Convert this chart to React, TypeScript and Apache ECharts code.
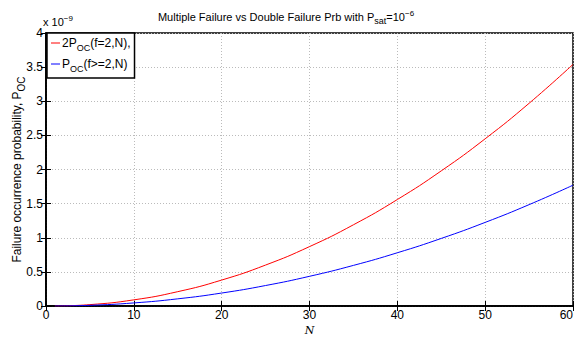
import React, { useEffect, useRef } from "react";
import * as echarts from "echarts";

const N_VALUES = [1, 5, 10, 15, 20, 25, 30, 35, 40, 45, 50, 55, 60];
// values in units of 1e-9
const DOUBLE_2X = [0, 0.02, 0.09, 0.21, 0.38, 0.6, 0.87, 1.19, 1.56, 1.98, 2.45, 2.97, 3.54];
const MULTI = [0, 0.01, 0.045, 0.105, 0.19, 0.3, 0.435, 0.595, 0.78, 0.99, 1.225, 1.485, 1.77];
const SERIES_NAMES = ["double", "multi"];
const FONT = "Liberation Sans, Arial, sans-serif";

export default function App() {
  const ref = useRef<HTMLDivElement>(null);
  useEffect(() => {
    if (!ref.current) return;
    const chart = echarts.init(ref.current, undefined, { renderer: "svg" });
    const gridLeft = 46, gridRight = 5, gridTop = 33, gridBottom = 31;
    const sub = { fontSize: 9, fontFamily: FONT, color: "#000", padding: [8, 0, 0, 0] };
    const sup = { fontSize: 8, fontFamily: FONT, color: "#000", padding: [0, 0, 7, 0] };
    const base = { fontSize: 11, fontFamily: FONT, color: "#000" };
    chart.setOption({
      animation: false,
      backgroundColor: "#fff",
      title: {
        text: "Multiple Failure vs Double Failure Prb with P{sub|sat}=10{sup|−6}",
        left: 281,
        textAlign: "center",
        top: 3,
        textStyle: { ...base, fontWeight: "normal", rich: { sub, sup } },
      },
      grid: {
        left: gridLeft, right: gridRight, top: gridTop, bottom: gridBottom,
        show: true, borderColor: "#000", borderWidth: 1.5,
        outerBoundsMode: "none", containLabel: false,
      },
      legend: {
        orient: "vertical",
        left: gridLeft + 1,
        top: gridTop,
        backgroundColor: "#fff",
        borderColor: "#000",
        borderWidth: 1.5,
        borderRadius: 0,
        padding: [4, 4, 5, 4],
        itemGap: 6,
        itemWidth: 9,
        itemHeight: 1,
        icon: "rect",
        data: SERIES_NAMES,
        formatter: (name: string) =>
          name === "double" ? "2P{sub|OC}(f=2,N)," : "P{sub|OC}(f>=2,N)",
        textStyle: { ...base, fontSize: 12, padding: [0, 0, 0, -3], rich: { sub: { ...sub, padding: [9, 0, 0, 0] } } },
      },
      xAxis: [
        {
          type: "value",
          min: 0,
          max: 60,
          interval: 10,
          name: "N",
          nameLocation: "middle",
          nameGap: 19,
          nameMoveOverlap: false,
          nameTextStyle: { fontFamily: "DejaVu Serif, serif", fontStyle: "italic", fontSize: 11, color: "#000" },
          axisLine: { show: true, lineStyle: { color: "#000", width: 1.5 } },
          axisTick: { show: true, inside: true, length: 5, lineStyle: { color: "#000" } },
          axisLabel: { ...base, fontSize: 12, margin: 3, alignMaxLabel: "right" },
          splitLine: { show: true, lineStyle: { color: "#bbb", type: [1, 2], width: 1 } },
        },
        {
          type: "value",
          position: "top",
          min: 0,
          max: 60,
          interval: 10,
          axisLine: { show: true, lineStyle: { color: "#000", width: 1.5 } },
          axisTick: { show: true, inside: true, length: 5, lineStyle: { color: "#000" } },
          axisLabel: { show: false },
          splitLine: { show: false },
        },
      ],
      yAxis: [
        {
          type: "value",
          min: 0,
          max: 4,
          interval: 0.5,
          name: "Failure occurrence probability, P{sub|OC}",
          nameLocation: "middle",
          nameGap: 20,
          nameMoveOverlap: false,
          nameTextStyle: { ...base, fontSize: 12, rich: { sub: { ...sub, fontSize: 10, padding: [8, 0, 0, 0] } } },
          axisLine: { show: true, lineStyle: { color: "#000", width: 1.5 } },
          axisTick: { show: true, inside: true, length: 5, lineStyle: { color: "#000" } },
          axisLabel: { ...base, fontSize: 12, margin: 3 },
          splitLine: { show: true, lineStyle: { color: "#bbb", type: [1, 2], width: 1 } },
        },
        {
          type: "value",
          position: "right",
          min: 0,
          max: 4,
          interval: 0.5,
          axisLine: { show: true, lineStyle: { color: "#000", width: 1.5 } },
          axisTick: { show: true, inside: true, length: 5, lineStyle: { color: "#000" } },
          axisLabel: { show: false },
          splitLine: { show: false },
        },
      ],
      graphic: [
        {
          type: "text",
          left: 43,
          top: 14,
          style: {
            text: "x 10{sup|−9}",
            font: `11px ${FONT}`,
            fill: "#000",
            rich: { sup: { fontSize: 8, fontFamily: FONT, fill: "#000", padding: [0, 0, 7, 0] } },
          },
        },
      ],
      series: [
        {
          name: "double",
          type: "line",
          smooth: true,
          symbol: "none",
          color: "#ff0000",
          lineStyle: { color: "#ff0000", width: 1 },
          data: N_VALUES.map((n, i) => [n, DOUBLE_2X[i]]),
        },
        {
          name: "multi",
          type: "line",
          smooth: true,
          symbol: "none",
          color: "#0000ff",
          lineStyle: { color: "#0000ff", width: 1 },
          data: N_VALUES.map((n, i) => [n, MULTI[i]]),
        },
      ],
    });
    return () => chart.dispose();
  }, []);
  return <div ref={ref} style={{ width: 578, height: 337, position: "absolute", left: 0, top: 0 }} />;
}
